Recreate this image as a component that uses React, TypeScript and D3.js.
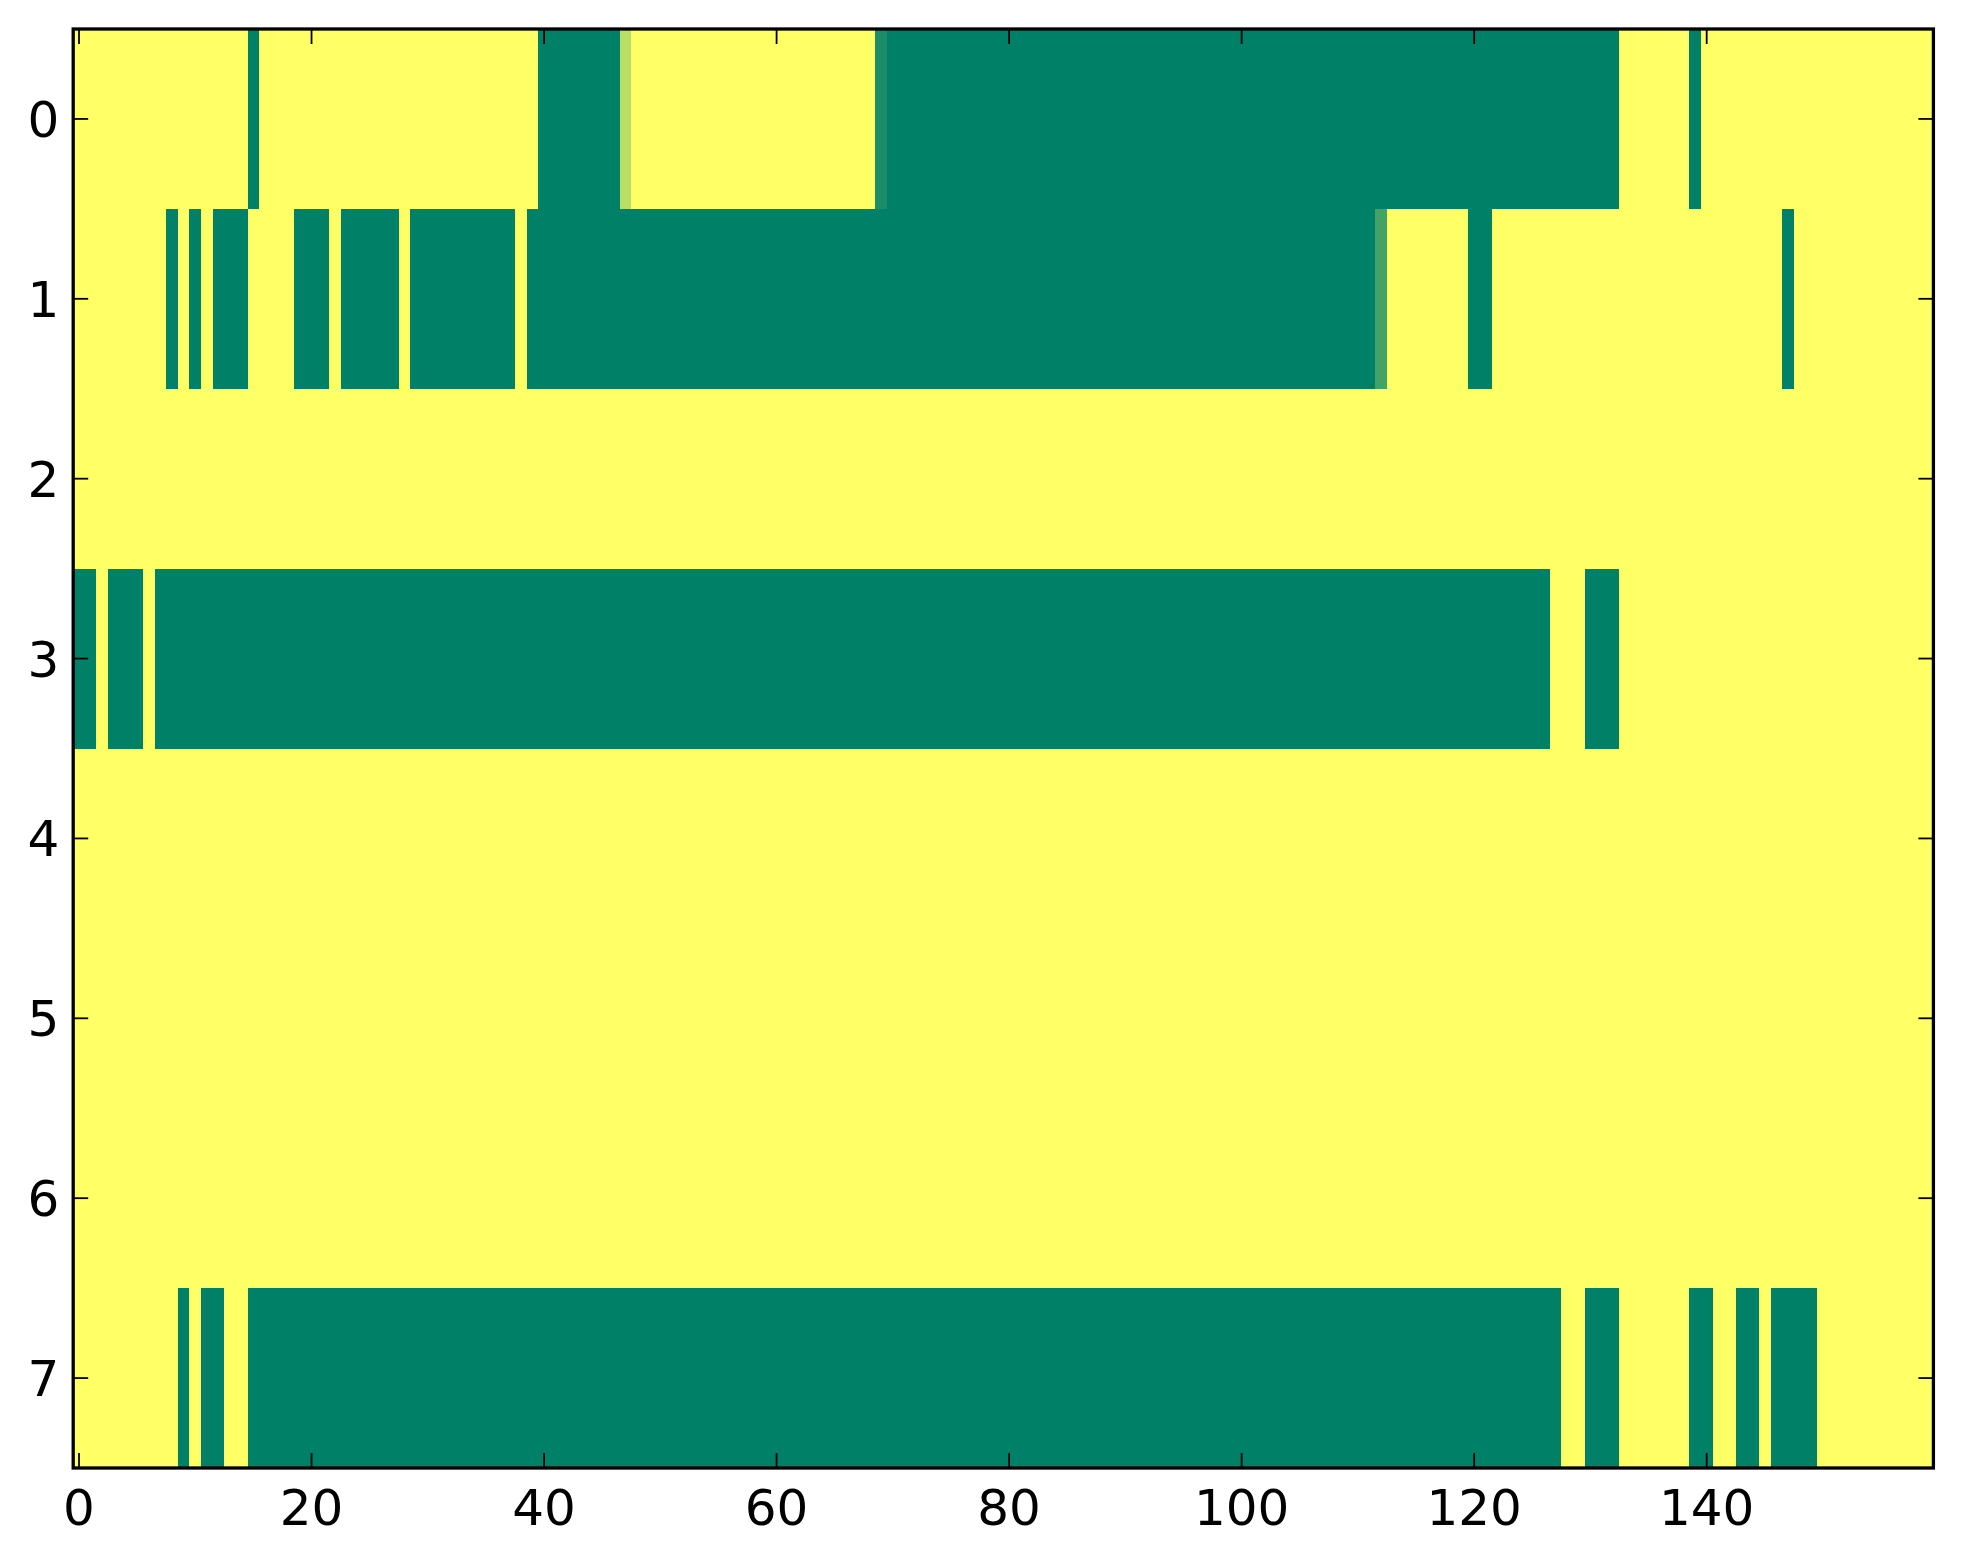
// @ts-nocheck
import * as d3 from "d3"

// image grid: 8 rows x 160 columns, default value 1 (yellow)
const nRows = 8
const nCols = 160
const xTicks = [0, 20, 40, 60, 80, 100, 120, 140]
const yTicks = [0, 1, 2, 3, 4, 5, 6, 7]

// runs of low values per row: [firstCol, lastCol, value]
const row0 = [[15, 15, 0], [40, 46, 0], [47, 47, 0.73], [69, 69, 0.1], [70, 132, 0], [139, 139, 0]]
const row1 = [[8, 8, 0], [10, 10, 0], [12, 14, 0], [19, 21, 0], [23, 27, 0], [29, 37, 0], [39, 111, 0], [112, 112, 0.27], [120, 121, 0], [147, 147, 0]]
const row2 = []
const row3 = [[0, 1, 0], [3, 5, 0], [7, 126, 0], [130, 132, 0]]
const row4 = []
const row5 = []
const row6 = []
const row7 = [[9, 9, 0], [11, 12, 0], [15, 127, 0], [130, 132, 0], [139, 140, 0], [143, 144, 0], [146, 149, 0]]

const rowRuns = [row0, row1, row2, row3, row4, row5, row6, row7]

const cells = []
rowRuns.forEach((runs, r) => {
  const vals = new Array(nCols).fill(1)
  runs.forEach(([a, b, v]) => {
    for (let c = a; c <= b; c++) vals[c] = v
  })
  vals.forEach((v, c) => cells.push({ r, c, v }))
})

export default function App() {
  const W = 1963
  const H = 1564
  const left = 73.2
  const right = 1933.4
  const top = 29
  const bottom = 1468

  const x = d3.scaleLinear().domain([-0.5, nCols - 0.5]).range([left, right])
  const y = d3.scaleLinear().domain([-0.5, nRows - 0.5]).range([top, bottom])
  // matplotlib "summer"
  const color = d3.scaleLinear().domain([0, 1]).range(["#008066", "#ffff66"]).interpolate(d3.interpolateRgb)

  const tickLen = 15
  const font = "'DejaVu Sans', sans-serif"

  return (
    <svg
      width={W}
      height={H}
      style={{ position: "absolute", left: 0, top: 0, display: "block", background: "#fff" }}
    >
      <g shapeRendering="crispEdges">
        {cells.map((d) => (
          <rect
            key={d.r + "-" + d.c}
            x={x(d.c - 0.5)}
            y={y(d.r - 0.5)}
            width={x(d.c + 0.5) - x(d.c - 0.5)}
            height={y(d.r + 0.5) - y(d.r - 0.5)}
            fill={color(d.v)}
          />
        ))}
      </g>

      {/* ticks, inward on all four sides */}
      <g stroke="#000" strokeWidth={1.8}>
        {xTicks.map((t) => (
          <g key={"xt" + t}>
            <line x1={x(t)} x2={x(t)} y1={bottom} y2={bottom - tickLen} />
            <line x1={x(t)} x2={x(t)} y1={top} y2={top + tickLen} />
          </g>
        ))}
        {yTicks.map((t) => (
          <g key={"yt" + t}>
            <line x1={left} x2={left + tickLen} y1={y(t)} y2={y(t)} />
            <line x1={right} x2={right - tickLen} y1={y(t)} y2={y(t)} />
          </g>
        ))}
      </g>

      <rect
        x={left}
        y={top}
        width={right - left}
        height={bottom - top}
        fill="none"
        stroke="#000"
        strokeWidth={3.3}
      />

      <g fontFamily={font} fontSize={50} fill="#000">
        {xTicks.map((t) => (
          <text key={"xl" + t} x={x(t)} y={1525} textAnchor="middle">
            {t}
          </text>
        ))}
        {yTicks.map((t) => (
          <text key={"yl" + t} x={left - 14} y={y(t)} dy="0.36em" textAnchor="end">
            {t}
          </text>
        ))}
      </g>
    </svg>
  )
}
